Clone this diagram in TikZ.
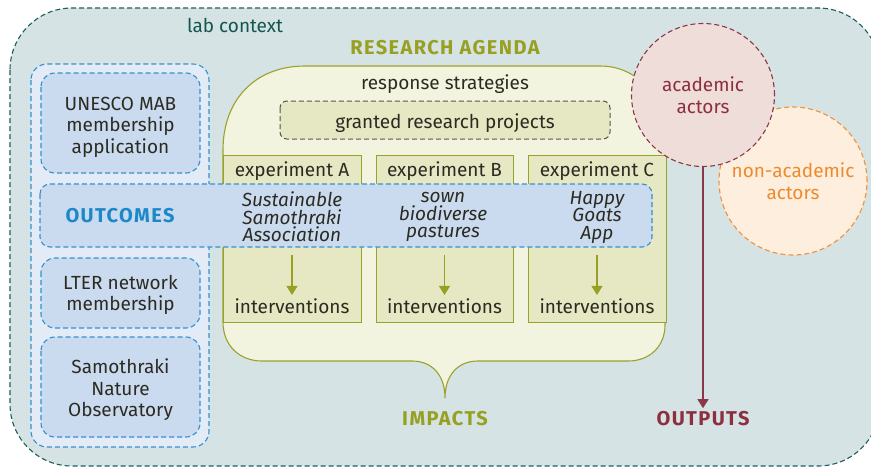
\documentclass[tikz,border=0pt]{standalone}
\usepackage{fontspec}
\setmainfont{Fira Sans}
\usetikzlibrary{arrows.meta}

\definecolor{labfill}{HTML}{D5E3E5}
\definecolor{labline}{HTML}{1F5C5C}
\definecolor{labtext}{HTML}{13564F}
\definecolor{outfill}{HTML}{E2EBF6}
\definecolor{boxfill}{HTML}{CBDBEF}
\definecolor{outline}{HTML}{3391CF}
\definecolor{outtext}{HTML}{1C88C7}
\definecolor{agfill}{HTML}{F3F4DF}
\definecolor{agline}{HTML}{9BA22A}
\definecolor{agtext}{HTML}{98A021}
\definecolor{expfill}{HTML}{E6E7C3}
\definecolor{acfill}{HTML}{EEDDD9}
\definecolor{acline}{HTML}{8C3848}
\definecolor{actext}{HTML}{8E2F3F}
\definecolor{nafill}{HTML}{FDEEDE}
\definecolor{naline}{HTML}{F2913A}
\definecolor{natext}{HTML}{EE8A2E}
\definecolor{ink}{HTML}{2B2B22}

\begin{document}
\begin{tikzpicture}[x=1pt, y=-1pt,
    every node/.style={text=ink, font=\fontsize{19}{21.5}\selectfont},
    bluebox/.style={draw=outline, fill=boxfill, line width=1.1pt, dash pattern=on 5pt off 3pt, rounded corners=14pt},
    expbox/.style={draw=agline, fill=expfill, line width=1pt},
    actor/.style={circle, line width=1.1pt, dash pattern=on 5pt off 3pt, align=center},
    title/.style={font=\fontsize{20}{22}\selectfont\bfseries\addfontfeatures{LetterSpace=7}},
    story/.style={align=center, font=\fontsize{19}{17.5}\selectfont\itshape},
    tip/.style={-{Triangle[length=9pt, width=11pt]}, line width=1.2pt}]
            \useasboundingbox (0,0) rectangle (871,467);
            \clip (0,0) rectangle (871,467);

            % Draw lab context
            \filldraw[fill=labfill, draw=labline, line width=1.1pt, dash pattern=on 5pt off 3pt, rounded corners=62pt] (10,8) rectangle (880,466);
            \node[text=labtext] (lab) at (235,25) {lab context};

            % Draw outcomes column
            \filldraw[fill=outfill, draw=outline, line width=1.1pt, dash pattern=on 5pt off 3pt, rounded corners=16pt] (31,64) rectangle (209,447);
            \filldraw[bluebox] (41,73) rectangle (200,173);
            \node[align=center] (unesco) at (120.5,127) {UNESCO MAB\\membership\\application};
            \filldraw[bluebox] (41,258) rectangle (200,328);
            \node[align=center] (lter) at (120.5,295) {LTER network\\membership};
            \filldraw[bluebox] (41,337) rectangle (200,437);
            \node[align=center] (observatory) at (120.5,390) {Samothraki\\Nature\\Observatory};

            % Draw research agenda
            \filldraw[fill=agfill, draw=agline, line width=1.1pt]
                (223,322) -- (223,150) .. controls (223,100) and (255,66) .. (305,66)
                -- (600,66) .. controls (640,66) and (665,100) .. (665,140)
                -- (665,325) .. controls (665,346) and (650,361) .. (628,361)
                -- (478,361) .. controls (458,361) and (445,375) .. (445,398)
                .. controls (445,375) and (432,361) .. (412,361)
                -- (262,361) .. controls (240,361) and (223,346) .. (223,322) -- cycle;
            \node[title, text=agtext] (agenda) at (445,48) {RESEARCH AGENDA};
            \node (strategies) at (445,84) {response strategies};
            \filldraw[fill=expfill, draw=ink!80, line width=1pt, dash pattern=on 5pt off 3pt, rounded corners=7pt] (280,101) rectangle (610,139);
            \node (granted) at (445,123) {granted research projects};

            % Draw experiments
            \filldraw[expbox] (223,155) rectangle (361,322);
            \filldraw[expbox] (376,155) rectangle (513,322);
            \filldraw[expbox] (528,155) rectangle (666,322);
            \node (titleA) at (292,171) {experiment A};
            \node (titleB) at (444.5,171) {experiment B};
            \node (titleC) at (597,171) {experiment C};
            \node (intvA) at (292,306) {interventions};
            \node (intvB) at (444.5,306) {interventions};
            \node (intvC) at (597,306) {interventions};

            % Draw outcomes band
            \filldraw[bluebox, rounded corners=10pt] (40,184) rectangle (652,247);
            \node[title, text=outtext] (outcomes) at (120,216) {OUTCOMES};
            \node[story] (association) at (292,217) {Sustainable\\Samothraki\\Association};
            \node[story] (pastures) at (443,217) {sown\\biodiverse\\pastures};
            \node[story] (goats) at (597,217) {Happy\\Goats\\App};

            % Draw arrows to interventions
            \coordinate (arrA) at (292,255);
            \coordinate (arrB) at (444.5,255);
            \coordinate (arrC) at (597,255);
            \draw[tip, draw=agtext, fill=agtext] (arrA) -- (intvA.north);
            \draw[tip, draw=agtext, fill=agtext] (arrB) -- (intvB.north);
            \draw[tip, draw=agtext, fill=agtext] (arrC) -- (intvC.north);

            % Draw actors
            \node[actor, fill=nafill, draw=naline, text=natext, minimum size=148pt] (nonacademic) at (793,181) {non-academic\\actors};
            \node[actor, fill=acfill, draw=acline, text=actext, minimum size=143pt] (academic) at (703,95) {academic\\actors};

            % Add impacts and outputs
            \node[title, text=agtext] (impacts) at (445,419) {IMPACTS};
            \node[title, text=actext] (outputs) at (703,419) {OUTPUTS};
            \draw[tip, draw=acline, fill=acline] (academic) -- (outputs.north);
\end{tikzpicture}
\end{document}
